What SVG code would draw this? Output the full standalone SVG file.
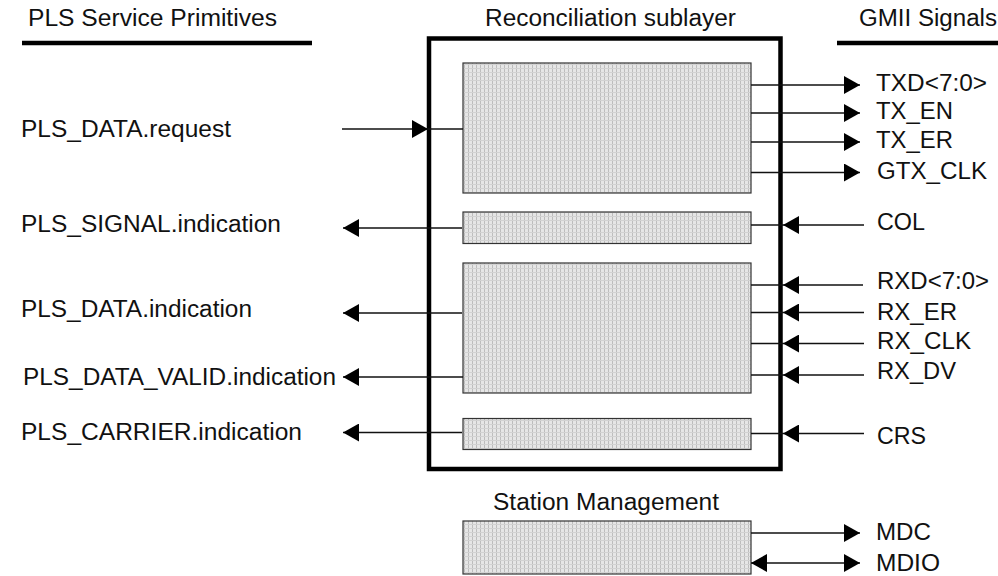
<svg xmlns="http://www.w3.org/2000/svg" width="998" height="576" viewBox="0 0 998 576">
<style>
text{font-family:"Liberation Sans",Arial,sans-serif;font-size:23px;fill:#111}
.hdr{stroke:#000;stroke-width:4.5}
.outer{fill:none;stroke:#000;stroke-width:4.5}
.blk{fill:url(#tex);stroke:#333;stroke-width:1.2}
.c{fill:none;stroke:#111;stroke-width:1.3}
.out{marker-end:url(#ah)}
.mid{marker-mid:url(#ah)}
</style>
<defs>
<pattern id="tex" width="4" height="4" patternUnits="userSpaceOnUse">
<rect width="4" height="4" fill="#e6e6e6"/>
<rect x="0" y="0" width="1" height="4" fill="#bdbdbd"/>
<rect x="0" y="0" width="4" height="1" fill="#d2d2d2"/>
</pattern>
<marker id="ah" markerUnits="userSpaceOnUse" markerWidth="16" markerHeight="18" refX="16" refY="9" orient="auto-start-reverse" viewBox="0 0 16 18">
<path d="M0,0 L16,9 L0,18 z" fill="#000"/>
</marker>
</defs>

<g id="headings">
<text x="28" y="26" textLength="249" lengthAdjust="spacingAndGlyphs">PLS Service Primitives</text>
<line class="hdr" x1="22" y1="43" x2="312" y2="43"/>
<text x="485" y="26" textLength="251" lengthAdjust="spacingAndGlyphs">Reconciliation sublayer</text>
<text x="859" y="26" textLength="138" lengthAdjust="spacingAndGlyphs">GMII Signals</text>
<line class="hdr" x1="837" y1="43" x2="998" y2="43"/>
</g>

<g id="reconciliation">
<rect class="outer" x="429" y="38.5" width="351.5" height="430.5"/>
</g>
<g id="tx-block"><rect class="blk" x="463" y="63" width="288" height="130"/></g>
<g id="col-block"><rect class="blk" x="463" y="212" width="288" height="31.5"/></g>
<g id="rx-block"><rect class="blk" x="463" y="263" width="288" height="130"/></g>
<g id="crs-block"><rect class="blk" x="463" y="418.5" width="288" height="31"/></g>
<g id="station-management">
<text x="493" y="510" textLength="226" lengthAdjust="spacingAndGlyphs">Station Management</text>
<rect class="blk" x="463" y="521" width="288" height="53"/>
</g>

<g id="pls-labels">
<text x="21" y="137" textLength="210" lengthAdjust="spacingAndGlyphs">PLS_DATA.request</text>
<text x="21" y="232" textLength="260" lengthAdjust="spacingAndGlyphs">PLS_SIGNAL.indication</text>
<text x="21" y="317" textLength="231" lengthAdjust="spacingAndGlyphs">PLS_DATA.indication</text>
<text x="23" y="384.5" textLength="313" lengthAdjust="spacingAndGlyphs">PLS_DATA_VALID.indication</text>
<text x="21" y="440" textLength="281" lengthAdjust="spacingAndGlyphs">PLS_CARRIER.indication</text>
</g>

<g id="gmii-labels">
<text x="876" y="91" textLength="111" lengthAdjust="spacingAndGlyphs">TXD&lt;7:0&gt;</text>
<text x="876" y="118.5" textLength="77" lengthAdjust="spacingAndGlyphs">TX_EN</text>
<text x="876" y="148" textLength="77" lengthAdjust="spacingAndGlyphs">TX_ER</text>
<text x="877" y="178.5" textLength="110" lengthAdjust="spacingAndGlyphs">GTX_CLK</text>
<text x="877" y="230" textLength="48" lengthAdjust="spacingAndGlyphs">COL</text>
<text x="877" y="288.5" textLength="112" lengthAdjust="spacingAndGlyphs">RXD&lt;7:0&gt;</text>
<text x="877" y="320" textLength="80" lengthAdjust="spacingAndGlyphs">RX_ER</text>
<text x="877" y="348.5" textLength="94" lengthAdjust="spacingAndGlyphs">RX_CLK</text>
<text x="877" y="379" textLength="79" lengthAdjust="spacingAndGlyphs">RX_DV</text>
<text x="877" y="443.5" textLength="49" lengthAdjust="spacingAndGlyphs">CRS</text>
<text x="876" y="540" textLength="55" lengthAdjust="spacingAndGlyphs">MDC</text>
<text x="876" y="570.5" textLength="64" lengthAdjust="spacingAndGlyphs">MDIO</text>
</g>

<g id="connectors">
<path class="c mid" d="M342,129 L428,129 L463,129"/>
<path class="c out" d="M462,228 L343,228"/>
<path class="c out" d="M462,313 L343,313"/>
<path class="c out" d="M463,377 L343,377"/>
<path class="c out" d="M462,432.5 L343,432.5"/>
<path class="c out" d="M751,85 L860,85"/>
<path class="c out" d="M751,113 L860,113"/>
<path class="c out" d="M751,142 L860,142"/>
<path class="c out" d="M751,172.5 L860,172.5"/>
<path class="c mid" d="M864,225 L783,225 L751,225"/>
<path class="c mid" d="M863,285 L783,285 L751,285"/>
<path class="c mid" d="M864,312.5 L783,312.5 L751,312.5"/>
<path class="c mid" d="M864,343.5 L783,343.5 L751,343.5"/>
<path class="c mid" d="M864,375 L783,375 L751,375"/>
<path class="c mid" d="M864,433.5 L783,433.5 L751,433.5"/>
<path class="c out" d="M751,533 L860,533"/>
<path class="c" d="M751,563 L860,563" marker-start="url(#ah)" marker-end="url(#ah)"/>
</g>
</svg>
